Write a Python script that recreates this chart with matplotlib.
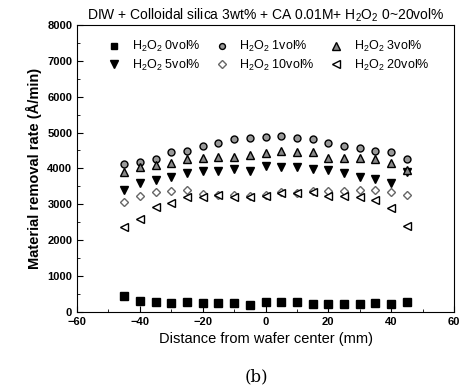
import matplotlib
matplotlib.use("Agg")
import matplotlib.pyplot as plt
from matplotlib.ticker import MultipleLocator

plt.rcParams['font.family'] = ['Liberation Sans', 'DejaVu Sans']
plt.rcParams['mathtext.fontset'] = 'custom'
plt.rcParams['mathtext.rm'] = 'Liberation Sans'
plt.rcParams['mathtext.it'] = 'Liberation Sans:italic'
plt.rcParams['mathtext.bf'] = 'Liberation Sans:bold'

# distance from wafer center (mm)
x = [-45, -40, -35, -30, -25, -20, -15, -10, -5, 0, 5, 10, 15, 20, 25, 30, 35, 40, 45]

h2o2_0 = [445, 315, 270, 260, 270, 240, 240, 240, 205, 270, 270, 270, 232, 220, 220, 232, 240, 220, 290]
h2o2_1 = [4120, 4170, 4250, 4450, 4490, 4630, 4700, 4820, 4855, 4885, 4910, 4855, 4820, 4700, 4630, 4560, 4490, 4465, 4250]
h2o2_3 = [3900, 4050, 4100, 4150, 4250, 4280, 4330, 4330, 4370, 4420, 4490, 4450, 4450, 4280, 4280, 4280, 4250, 4140, 3955]
h2o2_5 = [3400, 3585, 3677, 3750, 3860, 3930, 3930, 3975, 3930, 4067, 4050, 4050, 3975, 3955, 3880, 3770, 3700, 3585, 3900]
h2o2_10 = [3070, 3230, 3350, 3380, 3400, 3290, 3260, 3260, 3230, 3260, 3350, 3320, 3380, 3380, 3380, 3400, 3400, 3350, 3260]
h2o2_20 = [2360, 2590, 2935, 3045, 3210, 3210, 3260, 3210, 3210, 3230, 3320, 3320, 3350, 3230, 3230, 3210, 3120, 2890, 2395]

fig = plt.figure(figsize=(4.7, 3.89), dpi=100)
ax = fig.add_axes([0.164, 0.198, 0.802, 0.738])

ms = 5
ax.plot(x, h2o2_0, ls='none', marker='s', ms=ms+0.5, mfc='black', mec='black', label=r'H$_2$O$_2$ 0vol%')
ax.plot(x, h2o2_1, ls='none', marker='o', ms=ms, mfc='#999999', mec='black', mew=1, label=r'H$_2$O$_2$ 1vol%')
ax.plot(x, h2o2_5, ls='none', marker='v', ms=ms+1, mfc='black', mec='black', label=r'H$_2$O$_2$ 5vol%')
ax.plot(x, h2o2_3, ls='none', marker='^', ms=ms+1, mfc='#888888', mec='black', mew=1, label=r'H$_2$O$_2$ 3vol%')
ax.plot(x, h2o2_10, ls='none', marker='D', ms=ms-0.5, mfc='white', mec='#666666', mew=1, label=r'H$_2$O$_2$ 10vol%')
ax.plot(x, h2o2_20, ls='none', marker='<', ms=ms+1, mfc='white', mec='black', mew=1, label=r'H$_2$O$_2$ 20vol%')

ax.set_xlim(-60, 60)
ax.set_ylim(0, 8000)
ax.xaxis.set_major_locator(MultipleLocator(20))
ax.xaxis.set_minor_locator(MultipleLocator(10))
ax.yaxis.set_major_locator(MultipleLocator(1000))
ax.yaxis.set_minor_locator(MultipleLocator(500))
ax.tick_params(which='both', direction='in', labelsize=8)
ax.tick_params(which='major', length=4)
ax.tick_params(which='minor', length=2)
for lbl in ax.get_xticklabels() + ax.get_yticklabels():
    lbl.set_fontweight('bold')

ax.set_xlabel('Distance from wafer center (mm)', fontsize=10.5)
ax.set_ylabel('Material removal rate (Å/min)', fontsize=10.5, fontweight='bold')
ax.set_title(r'DIW + Colloidal silica 3wt% + CA 0.01M+ H$_2$O$_2$ 0~20vol%', fontsize=10, pad=4)

handles, labels = ax.get_legend_handles_labels()
order = [0, 2, 1, 4, 3, 5]  # column-major fill so rows read 0,1,3 / 5,10,20
ax.legend([handles[i] for i in order], [labels[i] for i in order], ncol=3, frameon=False,
          loc='upper center', fontsize=9, handletextpad=0.4, columnspacing=0.7,
          labelspacing=0.3, markerscale=0.85, bbox_to_anchor=(0.5, 0.99))

fig.text(0.545, 0.02, '(b)', ha='center', family='serif', fontsize=12)

fig.savefig('out.png', dpi=100)
